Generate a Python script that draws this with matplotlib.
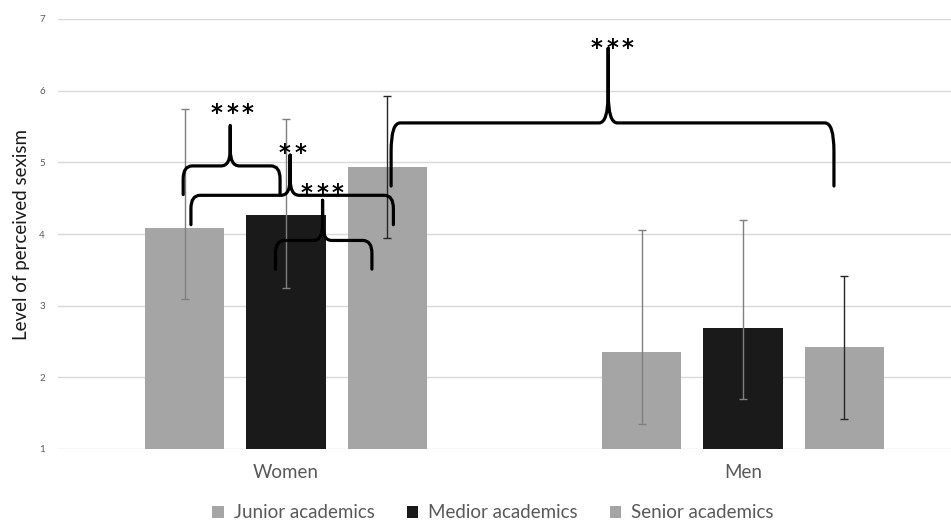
import matplotlib
matplotlib.use("Agg")
import matplotlib.pyplot as plt
import numpy as np
from matplotlib.path import Path
from matplotlib.patches import PathPatch, Patch

plt.rcParams['font.family'] = ['Lato', 'DejaVu Sans']

categories = ["Women", "Men"]
series = ["Junior academics", "Medior academics", "Senior academics"]
means = {
    "Junior academics": [4.08, 2.35],
    "Medior academics": [4.26, 2.69],
    "Senior academics": [4.93, 2.43],
}
err_low = {
    "Junior academics": [3.09, 1.35],
    "Medior academics": [3.25, 1.70],
    "Senior academics": [3.94, 1.42],
}
err_high = {
    "Junior academics": [5.75, 4.05],
    "Medior academics": [5.60, 4.19],
    "Senior academics": [5.93, 3.42],
}
colors = {"Junior academics": "#a5a5a5", "Medior academics": "#1a1a1a", "Senior academics": "#a5a5a5"}
ecolors = {"Junior academics": "#7f7f7f", "Medior academics": "#7f7f7f", "Senior academics": "#262626"}
yticks = [1, 2, 3, 4, 5, 6, 7]

fig = plt.figure(figsize=(9.51, 5.23), dpi=100)
ax = fig.add_axes([57.5 / 951, 74 / 523, 914 / 951, 430 / 523])

x = np.arange(len(categories))
offsets = [-0.222, 0.0, 0.222]
width = 0.173
for s, off in zip(series, offsets):
    m = np.array(means[s])
    lo = m - np.array(err_low[s])
    hi = np.array(err_high[s]) - m
    ax.bar(x + off, m - 1, bottom=1, width=width, color=colors[s], zorder=2)
    ax.errorbar(x + off, m, yerr=[lo, hi], fmt='none', ecolor=ecolors[s],
                elinewidth=1.0, capsize=3, capthick=1.0, zorder=3)

ax.set_xlim(-0.5, 1.5)
ax.set_ylim(1, 7)
ax.set_yticks(yticks)
ax.set_yticklabels([str(t) for t in yticks], fontsize=7, color="#595959")
ax.set_xticks(x)
ax.set_xticklabels(categories, fontsize=13.5, color="#595959")
ax.tick_params(axis='both', length=0)
ax.tick_params(axis='y', pad=9)
ax.tick_params(axis='x', pad=11)
ax.grid(axis='y', color="#d9d9d9", linewidth=1.0, zorder=0)
ax.set_axisbelow(True)
for sp in ax.spines.values():
    sp.set_visible(False)
ax.set_ylabel("Level of perceived sexism", fontsize=13.5, color="#1a1a1a", labelpad=7)


def brace(x0, x1, xc, yb, yh, yt, rx=0.02, leg_frac=0.45, cusp_frac=0.4):
    ryl = leg_frac * (yh - yb)
    ryc = cusp_frac * (yt - yh)
    verts = [
        (x0, yb), (x0, yh - ryl), (x0, yh), (x0 + rx, yh),
        (xc - rx, yh), (xc, yh), (xc, yh + ryc), (xc, yt),
        (xc, yh + ryc), (xc, yh), (xc + rx, yh),
        (x1 - rx, yh), (x1, yh), (x1, yh - ryl), (x1, yb),
    ]
    codes = [Path.MOVETO, Path.LINETO, Path.CURVE3, Path.CURVE3,
             Path.LINETO, Path.CURVE3, Path.CURVE3, Path.LINETO,
             Path.LINETO, Path.CURVE3, Path.CURVE3,
             Path.LINETO, Path.CURVE3, Path.CURVE3, Path.LINETO]
    ax.add_patch(PathPatch(Path(verts, codes), fill=False, lw=2.3,
                           edgecolor="black", capstyle='round', joinstyle='round', zorder=5))


brace(-0.225, -0.013, -0.122, 4.55, 4.95, 5.51)
brace(-0.208, 0.235, 0.009, 4.13, 4.54, 5.10)
brace(-0.023, 0.188, 0.080, 3.51, 3.91, 4.47)
brace(0.230, 1.199, 0.705, 4.67, 5.55, 6.59)


def stars(xc, yc, n, pitch=11.3):
    for i in range(n):
        dx = (i - (n - 1) / 2) * pitch
        ax.annotate("*", xy=(xc, yc), xytext=(dx, -8.5), textcoords='offset points',
                    ha='center', va='baseline', fontsize=16.5, fontweight='bold',
                    color='black', zorder=6, family=['DejaVu Sans'])


stars(-0.118, 5.76, 3)
stars(0.015, 5.20, 2)
stars(0.079, 4.64, 3)
stars(0.714, 6.66, 3)

handles = [Patch(facecolor=colors[s], edgecolor='none') for s in series]
fig.legend(handles, series, loc='center', bbox_to_anchor=(493 / 951, 1 - 513 / 523),
           ncol=3, frameon=False, fontsize=13.5, labelcolor="#595959",
           handlelength=0.6, handleheight=0.6, handletextpad=0.55, columnspacing=1.7)

fig.savefig("out.png", dpi=100)
